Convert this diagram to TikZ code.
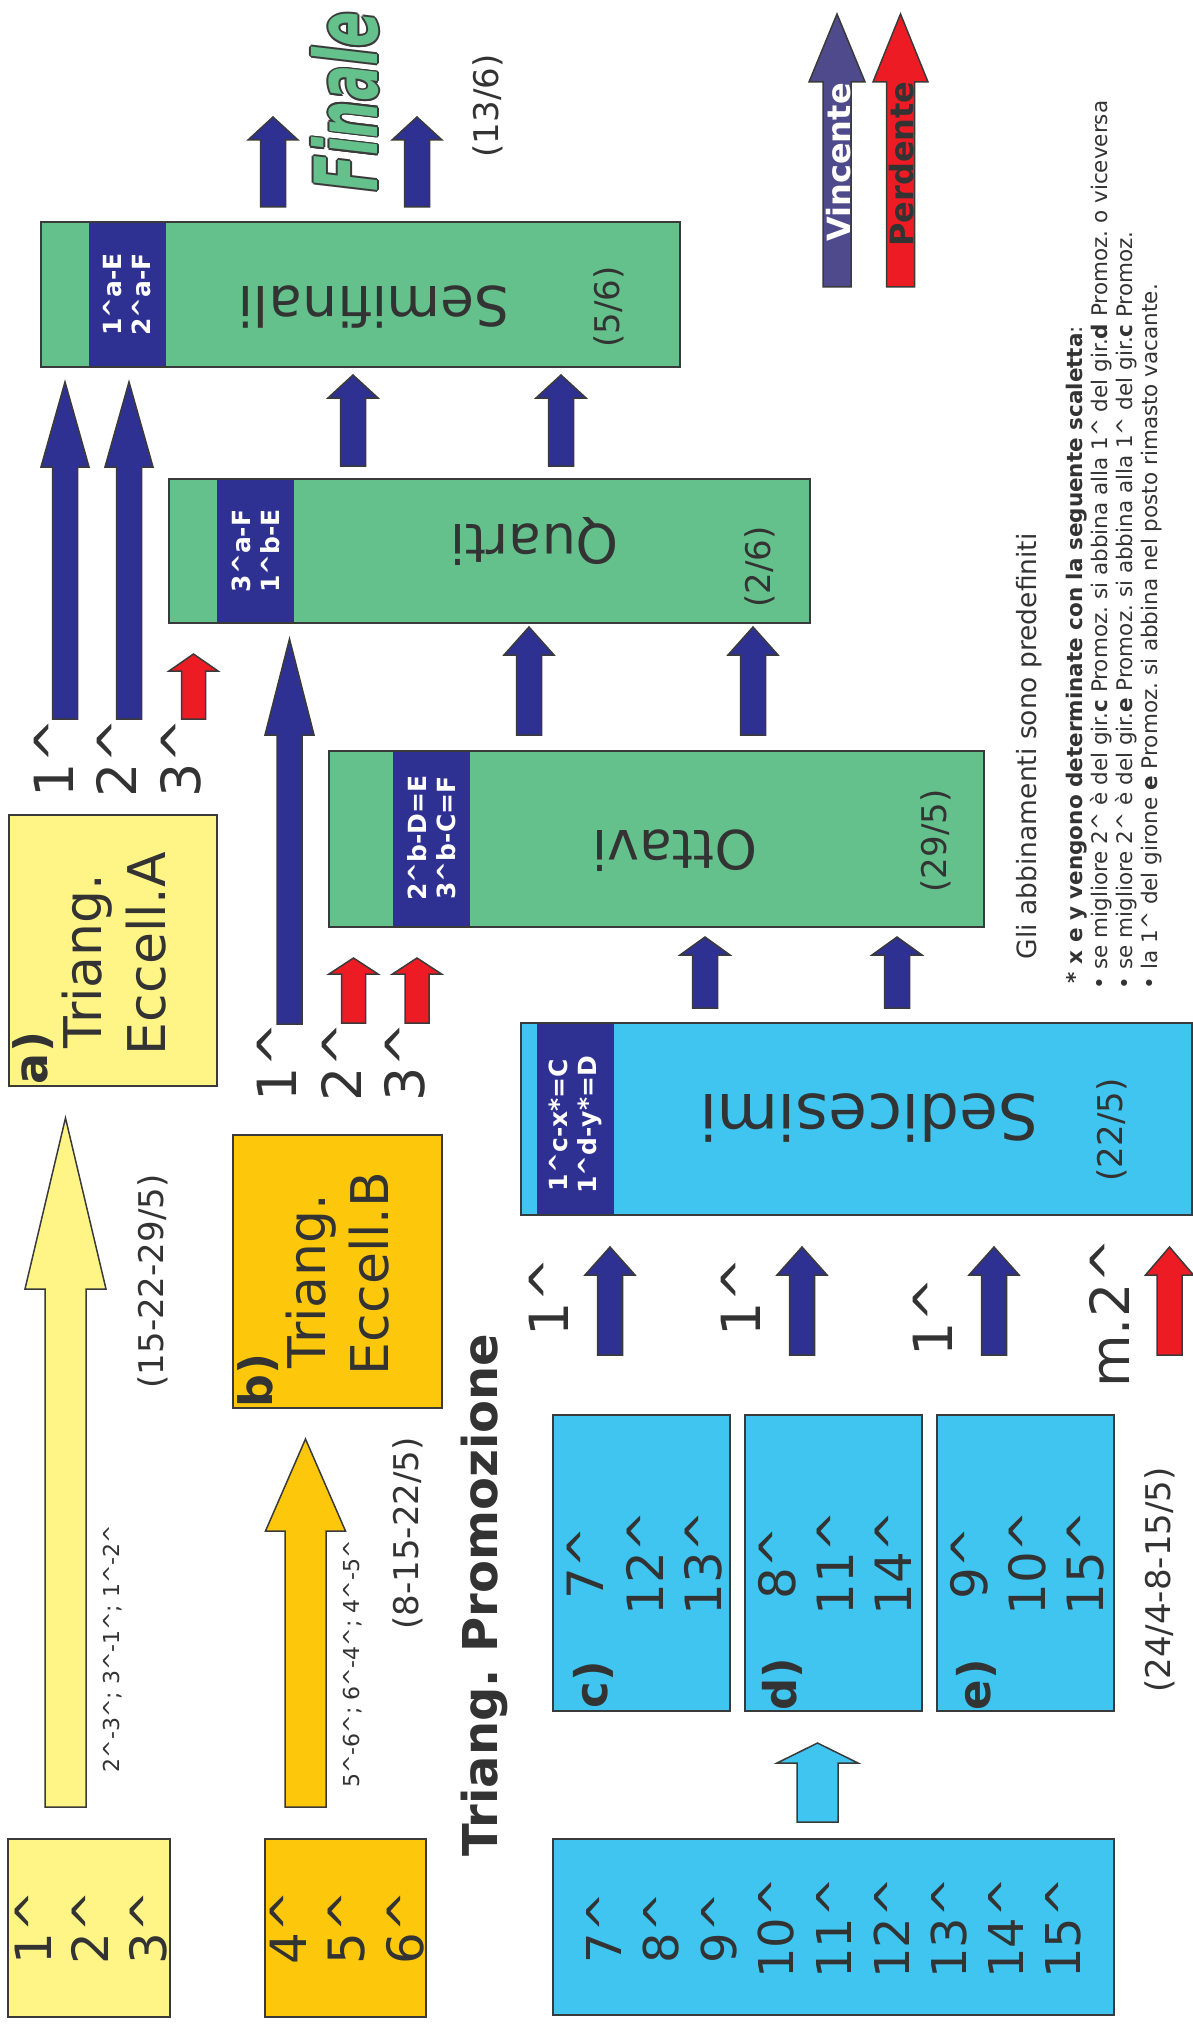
\documentclass[tikz,border=0pt]{standalone}
\usepackage{graphicx}
\usepackage{fontspec}
\setmainfont{DejaVu Sans}[BoldFont={DejaVu Sans Bold},ItalicFont={DejaVu Sans Oblique},BoldItalicFont={DejaVu Sans Bold Oblique}]
\definecolor{cyel}{HTML}{FFF587}
\definecolor{cgold}{HTML}{FDC80C}
\definecolor{cgreen}{HTML}{64C18C}
\definecolor{ccyan}{HTML}{3FC5F0}
\definecolor{cnavy}{HTML}{2E3192}
\definecolor{cred}{HTML}{ED1C24}
\definecolor{cvinc}{HTML}{4F4A8C}
\definecolor{cline}{HTML}{3A3A3A}
\definecolor{ctext}{HTML}{333333}
\newcommand\fsz[2]{\fontsize{#1}{#2}\selectfont}
\newcommand\crt{\textasciicircum}
% block arrow: cx, tip y, head-base y, bottom y, half head, half shaft, colour
\newcommand\blkarrow[7]{\filldraw[fill=#7,draw=cline,line width=1.5pt] (#1-#6,#4) -- (#1-#6,#3) -- (#1-#5,#3) -- (#1,#2) -- (#1+#5,#3) -- (#1+#6,#3) -- (#1+#6,#4) -- cycle;}
% box node: name, x1, y1, x2, y2, fill
\newcommand\boxat[6]{\node[box,fill=#6,minimum width=#4-#2,minimum height=#5-#3] (#1) at ({(#2+#4)/2},{(#3+#5)/2}) {};}
\frenchspacing
\begin{document}
\begin{tikzpicture}[x=1pt,y=-1pt,
  box/.style={draw=cline,line width=1.8pt,inner sep=0pt,outer sep=0pt},
  txt/.style={inner sep=0pt,outer sep=0pt,text=ctext,rotate=90},
  stage/.style={inner sep=0pt,outer sep=0pt,text=ctext,rotate=180},
  bandtx/.style={inner sep=0pt,text=white,rotate=90,align=center,font=\bfseries\fsz{25}{29}},
  big/.style={txt,font=\fsz{54}{60}},
  mid/.style={txt,font=\fsz{50}{56}},
  lab/.style={txt,font=\bfseries\fsz{45}{50}},
  date/.style={txt,font=\fsz{34}{40}},
  tiny/.style={txt,font=\fsz{22}{26}},
  note/.style={txt,font=\fsz{21.5}{25},anchor=base west},
  finale/.style={inner sep=0pt,outer sep=0pt,rotate=90,font=\bfseries\itshape\fsz{87}{90}}]
\useasboundingbox (0,0) rectangle (1193,2025);
\fill[white] (0,0) rectangle (1193,2025);

% ---------- stage boxes ----------
\boxat{semi}{41}{222}{680}{367}{cgreen}
\fill[cnavy] (89,222) rectangle (166,367);
\draw[box] (semi.north west) rectangle (semi.south east);
\node[bandtx] (semib) at (127.5,294.5) {1\crt a-E\\2\crt a-F};
\node[stage,font=\fsz{55}{60}] (semin) at (374,307) {Semifinali};
\node[date] (semid) at (609,307) {(5/6)};

\boxat{quarti}{169}{479}{810}{623}{cgreen}
\fill[cnavy] (217,479) rectangle (294,623);
\draw[box] (quarti.north west) rectangle (quarti.south east);
\node[bandtx] (quartib) at (255.5,551) {3\crt a-F\\1\crt b-E};
\node[stage,font=\fsz{54}{60}] (quartin) at (534.5,542) {Quarti};
\node[date] (quartid) at (760,567) {(2/6)};

\boxat{ottavi}{329}{751}{984}{927}{cgreen}
\fill[cnavy] (393,751) rectangle (470,927);
\draw[box] (ottavi.north west) rectangle (ottavi.south east);
\node[bandtx] (ottavib) at (431.5,838) {2\crt b-D=E\\3\crt b-C=F};
\node[stage,font=\fsz{54}{60}] (ottavin) at (675,851) {Ottavi};
\node[date] (ottavid) at (936,841) {(29/5)};

\boxat{sedic}{521}{1023}{1192}{1215}{ccyan}
\fill[cnavy] (537,1023) rectangle (614,1215);
\draw[box] (sedic.north west) rectangle (sedic.south east);
\node[bandtx] (sedicb) at (575.5,1125) {1\crt c-x*=C\\1\crt d-y*=D};
\node[stage,font=\fsz{63}{68}] (sedicn) at (869,1118) {Sedicesimi};
\node[date] (sedicd) at (1112,1130) {(22/5)};

% ---------- Finale ----------
\foreach \dx/\dy [count=\i] in {-1.8/0,1.8/0,0/-1.8,0/1.8,-1.3/-1.3,1.3/1.3,-1.3/1.3,1.3/-1.3}
  \node[finale,text=cline] (finsh\i) at (345+\dx,102+\dy) {\scalebox{0.6}[1]{Finale}};
\node[finale,text=cgreen] (fin) at (345,102) {\scalebox{0.6}[1]{Finale}};
\node[date] (find) at (488,106) {(13/6)};

% ---------- Eccellenza boxes ----------
\boxat{boxa}{9}{815}{217}{1086}{cyel}
\node[txt,font=\bfseries\fsz{46}{50},anchor=base west] (alab) at (47,1084) {a)};
\node[txt,font=\fsz{52}{58},anchor=base west] (atri) at (101,1048) {Triang.};
\node[txt,font=\fsz{52}{58},anchor=base west] (aecc) at (165,1055) {Eccell.A};

\boxat{boxb}{233}{1135}{442}{1408}{cgold}
\node[txt,font=\bfseries\fsz{46}{50},anchor=base west] (blab) at (272,1407) {b)};
\node[txt,font=\fsz{52}{58},anchor=base west] (btri) at (325,1368) {Triang.};
\node[txt,font=\fsz{52}{58},anchor=base west] (becc) at (388,1375) {Eccell.B};

% ---------- arrows ----------
\blkarrow{273}{117}{140}{207}{25}{12.5}{cnavy}
\blkarrow{417}{117}{140}{207}{25}{12.5}{cnavy}
\blkarrow{353}{375}{398}{466}{25}{12.5}{cnavy}
\blkarrow{561}{375}{398}{466}{25}{12.5}{cnavy}
\blkarrow{65}{382}{467}{719}{24}{12.5}{cnavy}
\blkarrow{129}{382}{467}{719}{24}{12.5}{cnavy}
\blkarrow{193.5}{654}{671}{719}{24.5}{12}{cred}
\blkarrow{289.5}{639}{735}{1024}{24.5}{12.5}{cnavy}
\blkarrow{529}{627}{655}{735}{25}{12.5}{cnavy}
\blkarrow{753}{627}{655}{735}{25}{12.5}{cnavy}
\blkarrow{353.5}{958}{974}{1023}{24.5}{12}{cred}
\blkarrow{417}{958}{974}{1023}{24.5}{12}{cred}
\blkarrow{705}{937}{955}{1008}{25}{12.5}{cnavy}
\blkarrow{897}{937}{955}{1008}{25}{12.5}{cnavy}
\blkarrow{610}{1247}{1275}{1355}{25}{12.5}{cnavy}
\blkarrow{802}{1247}{1275}{1355}{25}{12.5}{cnavy}
\blkarrow{994}{1247}{1275}{1355}{25}{12.5}{cnavy}
\blkarrow{1169.5}{1247}{1275}{1355}{24}{12.5}{cred}
\blkarrow{65.5}{1118}{1289}{1807}{40.5}{20.5}{cyel}
\blkarrow{305.5}{1439}{1531}{1807}{40}{20.5}{cgold}
\blkarrow{817.5}{1743}{1763}{1822}{40.5}{20.5}{ccyan}
\blkarrow{837}{14}{82}{287}{28}{14}{cvinc}
\blkarrow{900.5}{14}{82}{287}{27.5}{14}{cred}
\node[txt,font=\bfseries\fsz{32}{36},text=white] (vinc) at (838.5,162.5) {Vincente};
\node[txt,font=\bfseries\fsz{32}{36}] (perd) at (901.5,164) {Perdente};

% ---------- position labels ----------
\node[big] (a1) at (53.5,758) {1\crt};
\node[big] (a2) at (116,758) {2\crt};
\node[big] (a3) at (180.5,758) {3\crt};
\node[big] (b1) at (277,1062) {1\crt};
\node[big] (b2) at (341,1062) {2\crt};
\node[big] (b3) at (405,1062) {3\crt};
\node[big] (c1) at (548.5,1297) {1\crt};
\node[big] (d1) at (741,1297) {1\crt};
\node[big] (e1) at (933,1317) {1\crt};
\node[big] (m2) at (1109,1313) {m.2\crt};

% ---------- dates and pairings ----------
\node[date] (adate) at (153,1281.5) {(15-22-29/5)};
\node[date] (bdate) at (408,1533.5) {(8-15-22/5)};
\node[date] (pdate) at (1159.5,1580) {(24/4-8-15/5)};
\node[tiny] (apair) at (113,1648.5) {2\crt-3\crt; 3\crt-1\crt; 1\crt-2\crt};
\node[tiny] (bpair) at (352.5,1664) {5\crt-6\crt; 6\crt-4\crt; 4\crt-5\crt};
\node[txt,font=\bfseries\fsz{48}{54},anchor=base west] (tprom) at (497,1856) {Triang. Promozione};

% ---------- bottom boxes ----------
\boxat{ya}{8}{1839}{170}{2017}{cyel}
\node[mid] (ya1) at (33.5,1927.5) {1\crt};
\node[mid] (ya2) at (90,1927.5) {2\crt};
\node[mid] (ya3) at (148.5,1927.5) {3\crt};
\boxat{gb}{265}{1839}{426}{2017}{cgold}
\node[mid] (gb4) at (288.5,1927.5) {4\crt};
\node[mid] (gb5) at (346.5,1927.5) {5\crt};
\node[mid] (gb6) at (405,1927.5) {6\crt};

\boxat{gc}{553}{1415}{730}{1711}{ccyan}
\node[lab] (gcl) at (593,1684.5) {c)};
\node[mid] (gc1) at (585,1563) {7\crt};
\node[mid] (gc2) at (645,1563) {12\crt};
\node[mid] (gc3) at (703,1563) {13\crt};
\boxat{gd}{745}{1415}{922}{1711}{ccyan}
\node[lab] (gdl) at (782,1684.5) {d)};
\node[mid] (gd1) at (777,1563) {8\crt};
\node[mid] (gd2) at (835,1563) {11\crt};
\node[mid] (gd3) at (893,1563) {14\crt};
\boxat{ge}{937}{1415}{1114}{1711}{ccyan}
\node[lab] (gel) at (976,1684.5) {e)};
\node[mid] (ge1) at (969,1563) {9\crt};
\node[mid] (ge2) at (1027,1563) {10\crt};
\node[mid] (ge3) at (1085.5,1563) {15\crt};

\boxat{pall}{553}{1839}{1114}{2015}{ccyan}
\foreach \t [count=\i from 0] in {7,8,9,10,11,12,13,14,15}
  \node[txt,font=\fsz{48}{54}] (pall\i) at (604+57.44*\i,1928) {\t\crt};

% ---------- notes ----------
\node[txt,font=\fsz{26.5}{30},anchor=base west] (n0) at (1036,959) {Gli abbinamenti sono predefiniti};
\node[note] (n1) at (1082,983) {\textbf{* x e y vengono determinate con la seguente scaletta}:};
\node[note] (n2) at (1107,989) {\textbullet{} se migliore 2\crt{} è del gir.\textbf{c} Promoz. si abbina alla 1\crt{} del gir.\textbf{d} Promoz. o viceversa};
\node[note] (n3) at (1132,989) {\textbullet{} se migliore 2\crt{} è del gir.\textbf{e} Promoz. si abbina alla 1\crt{} del gir.\textbf{c} Promoz.};
\node[note] (n4) at (1157,989) {\textbullet{} la 1\crt{} del girone \textbf{e} Promoz. si abbina nel posto rimasto vacante.};
\end{tikzpicture}
\end{document}
